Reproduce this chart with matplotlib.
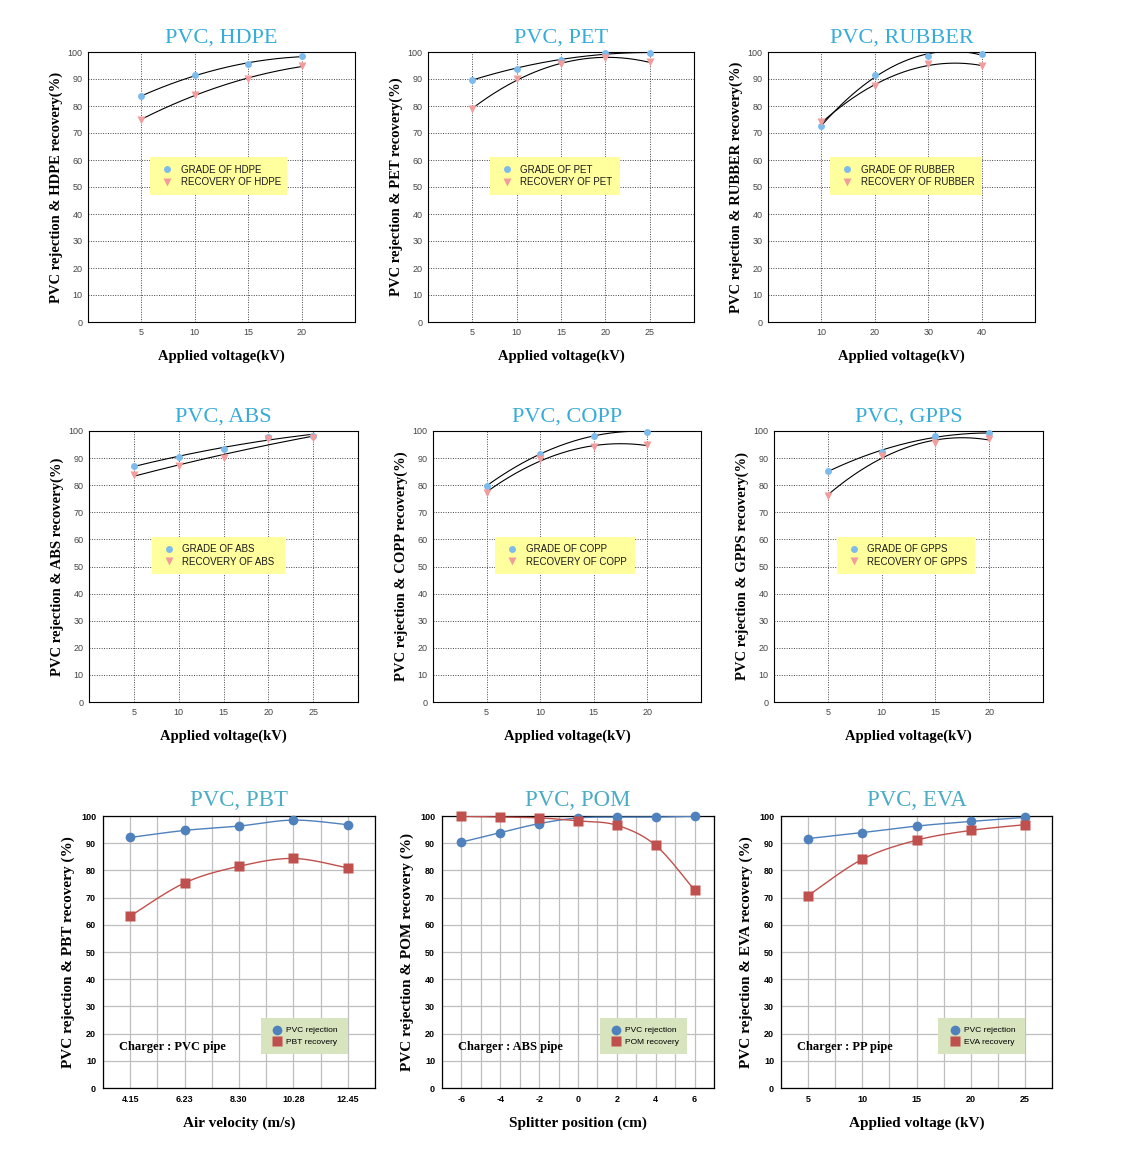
"""PVC separation results - nine small panels (grade / recovery vs. operating variable)."""

import matplotlib
matplotlib.use("Agg")
import matplotlib.pyplot as plt
from matplotlib.lines import Line2D
from matplotlib.patches import Rectangle
import numpy as np

W, H = 1135, 1155
SERIF = "Liberation Serif"
SANS = "Liberation Sans"

# ---- data: top two rows (grade / recovery vs applied voltage) ----
HDPE_X = [5, 10, 15, 20]
HDPE_GRADE = [83.6, 91.6, 95.6, 98.4]
HDPE_RECOVERY = [75.0, 84.2, 90.1, 94.7]

PET_X = [5, 10, 15, 20, 25]
PET_GRADE = [89.8, 93.7, 97.2, 99.6, 99.6]
PET_RECOVERY = [78.9, 90.0, 95.6, 97.8, 96.3]

RUBBER_X = [10, 20, 30, 40]
RUBBER_GRADE = [72.5, 91.4, 98.6, 99.1]
RUBBER_RECOVERY = [74.0, 87.3, 95.6, 94.8]

ABS_X = [5, 10, 15, 20, 25]
ABS_GRADE = [87.2, 90.3, 93.3, 97.9, 98.3]
ABS_RECOVERY = [83.7, 87.1, 90.1, 96.9, 97.3]

COPP_X = [5, 10, 15, 20]
COPP_GRADE = [79.8, 91.4, 98.3, 99.8]
COPP_RECOVERY = [77.3, 89.5, 94.0, 94.8]

GPPS_X = [5, 10, 15, 20]
GPPS_GRADE = [85.2, 92.4, 98.2, 99.1]
GPPS_RECOVERY = [76.1, 90.9, 95.7, 97.0]

# ---- data: bottom row ----
PBT_LABELS = ["4.15", "6.23", "8.30", "10.28", "12.45"]
PBT_REJECTION = [92.1, 94.7, 96.3, 98.5, 96.8]
PBT_RECOVERY = [63.2, 75.4, 81.5, 84.4, 80.9]

POM_X = [-6, -4, -2, 0, 2, 4, 6]
POM_REJECTION = [90.4, 93.9, 97.2, 99.3, 99.6, 99.6, 99.9]
POM_RECOVERY = [99.9, 99.6, 99.3, 98.2, 96.6, 89.2, 72.7]

EVA_X = [5, 10, 15, 20, 25]
EVA_REJECTION = [91.7, 93.9, 96.3, 98.0, 99.5]
EVA_RECOVERY = [70.7, 84.1, 91.1, 94.7, 96.8]

Y_TICKS = list(range(0, 101, 10))


def px_axes(fig, left, top, right, bottom):
    """Axes from pixel box (origin top-left)."""
    return fig.add_axes([left / W, 1 - bottom / H, (right - left) / W, (bottom - top) / H])


def smooth(x, y, n=40):
    """Excel-style smoothed line (Catmull-Rom through the points)."""
    px = np.concatenate([[x[0]], x, [x[-1]]]).astype(float)
    py = np.concatenate([[y[0]], y, [y[-1]]]).astype(float)
    t = np.linspace(0, 1, n)
    xs, ys = [], []
    for i in range(1, len(px) - 2):
        for p, out in ((px, xs), (py, ys)):
            p0, p1, p2, p3 = p[i - 1:i + 3]
            out.append(0.5 * (2 * p1 + (p2 - p0) * t
                              + (2 * p0 - 5 * p1 + 4 * p2 - p3) * t ** 2
                              + (3 * p1 - p0 - 3 * p2 + p3) * t ** 3))
    return np.concatenate(xs), np.concatenate(ys)


def voltage_panel(ax, name, x, grade, recovery, xlim, leg_w):
    x = np.asarray(x, float)
    xs = np.linspace(x[0], x[-1], 200)
    for y in (grade, recovery):
        fit = np.polyfit(x, y, 2)
        ax.plot(xs, np.polyval(fit, xs), color="black", lw=0.8, zorder=3)
    ax.plot(x, grade, "o", ms=5, color="#7DBBEC", mec="none", zorder=4, clip_on=False)
    ax.plot(x, recovery, "v", ms=5.5, color="#F29C9C", mec="none", zorder=4, clip_on=False)

    ax.set_xlim(*xlim)
    ax.set_ylim(0, 100)
    ax.set_xticks(x)
    ax.set_xticklabels([f"{v:g}" for v in x])
    ax.set_yticks(Y_TICKS)
    ax.grid(True, ls=(0, (1, 1.5)), color="#444444", lw=0.7)
    ax.tick_params(length=0, labelsize=6.5, labelcolor="#444444", pad=4)
    for lab in ax.get_xticklabels() + ax.get_yticklabels():
        lab.set_family(SANS)
    for s in ax.spines.values():
        s.set_linewidth(0.8)

    ax.set_title(f"PVC, {name}", family=SERIF, fontsize=16, color="#38ACD8", pad=7)
    ax.set_xlabel("Applied voltage(kV)", family=SERIF, fontweight="bold",
                  fontsize=10.5, labelpad=9)
    ax.set_ylabel(f"PVC rejection & {name} recovery(%)", family=SERIF,
                  fontweight="bold", fontsize=10.5, labelpad=3)

    ax.add_patch(Rectangle((0.233, 0.472), leg_w, 0.138, transform=ax.transAxes,
                           facecolor="#FFFF9E", edgecolor="none", zorder=5))
    handles = [Line2D([], [], ls="none", marker="o", ms=5, color="#7DBBEC", mec="none"),
               Line2D([], [], ls="none", marker="v", ms=5.5, color="#F29C9C", mec="none")]
    leg = ax.legend(handles, [f"GRADE OF {name}", f"RECOVERY OF {name}"],
                    loc="center left", bbox_to_anchor=(0.26, 0.541), frameon=False,
                    prop={"family": SANS, "size": 7}, handlelength=1.0,
                    handletextpad=0.9, labelspacing=0.25, borderpad=0)
    leg.set_zorder(6)
    for t in leg.get_texts():
        t.set_color("#1A1A1A")


def excel_panel(ax, name, x, rejection, recovery, xlim, xgrid, xticks, xticklabels,
                xlabel, charger):
    blue, red = "#4F81BD", "#C0504D"
    for y, c in ((rejection, blue), (recovery, red)):
        sx, sy = smooth(np.asarray(x, float), np.asarray(y, float))
        ax.plot(sx, sy, color=c, lw=1.0, zorder=3)
    ax.plot(x, rejection, "o", ms=7, color=blue, mec="none", zorder=4, clip_on=False)
    ax.plot(x, recovery, "s", ms=6.5, color=red, mec="none", zorder=4, clip_on=False)

    ax.set_xlim(*xlim)
    ax.set_ylim(0, 100)
    ax.set_xticks(xticks)
    ax.set_xticklabels(xticklabels)
    ax.set_xticks(xgrid, minor=True)
    ax.set_yticks(Y_TICKS)
    ax.grid(True, which="both", color="#BFBFBF", lw=0.9)
    ax.set_axisbelow(True)
    ax.tick_params(which="both", length=0, labelsize=6.5, pad=5)
    for lab in ax.get_xticklabels() + ax.get_yticklabels():
        lab.set_family(SANS)
        lab.set_fontweight("bold")
    for s in ax.spines.values():
        s.set_linewidth(0.9)

    ax.set_title(f"PVC, {name}", family=SERIF, fontsize=16.5, color="#4BACC6", pad=7)
    ax.set_xlabel(xlabel, family=SERIF, fontweight="bold", fontsize=11, labelpad=9)
    ax.set_ylabel(f"PVC rejection & {name} recovery (%)", family=SERIF,
                  fontweight="bold", fontsize=11, labelpad=4)
    ax.text(0.06, 0.15, f"Charger : {charger}", transform=ax.transAxes,
            family=SERIF, fontweight="bold", fontsize=9, va="center", zorder=6)

    ax.add_patch(Rectangle((0.58, 0.124), 0.32, 0.133, transform=ax.transAxes,
                           facecolor="#D7E4BD", edgecolor="none", zorder=5))
    handles = [Line2D([], [], ls="none", marker="o", ms=7, color=blue, mec="none"),
               Line2D([], [], ls="none", marker="s", ms=6.5, color=red, mec="none")]
    leg = ax.legend(handles, ["PVC rejection", f"{name} recovery"],
                    loc="center left", bbox_to_anchor=(0.61, 0.19), frameon=False,
                    prop={"family": SANS, "size": 6}, handlelength=1.0,
                    handletextpad=0.6, labelspacing=0.45, borderpad=0)
    leg.set_zorder(6)


def main():
    fig = plt.figure(figsize=(W / 100, H / 100), dpi=100)
    fig.patch.set_facecolor("white")

    voltage_panel(px_axes(fig, 88, 52, 355, 322), "HDPE", HDPE_X, HDPE_GRADE,
                  HDPE_RECOVERY, (0, 25), 0.514)
    voltage_panel(px_axes(fig, 428, 52, 694, 322), "PET", PET_X, PET_GRADE,
                  PET_RECOVERY, (0, 30), 0.49)
    voltage_panel(px_axes(fig, 768, 52, 1035, 322), "RUBBER", RUBBER_X, RUBBER_GRADE,
                  RUBBER_RECOVERY, (0, 50), 0.566)
    voltage_panel(px_axes(fig, 89, 431, 358, 702), "ABS", ABS_X, ABS_GRADE,
                  ABS_RECOVERY, (0, 30), 0.495)
    voltage_panel(px_axes(fig, 433, 431, 701, 702), "COPP", COPP_X, COPP_GRADE,
                  COPP_RECOVERY, (0, 25), 0.522)
    voltage_panel(px_axes(fig, 774, 431, 1043, 702), "GPPS", GPPS_X, GPPS_GRADE,
                  GPPS_RECOVERY, (0, 25), 0.513)

    pbt_x = list(range(len(PBT_LABELS)))
    excel_panel(px_axes(fig, 103, 816, 375, 1088), "PBT", pbt_x, PBT_REJECTION,
                PBT_RECOVERY, (-0.5, len(pbt_x) - 0.5),
                np.arange(-0.5, len(pbt_x), 0.5), pbt_x, PBT_LABELS,
                "Air velocity (m/s)", "PVC pipe")
    excel_panel(px_axes(fig, 442, 816, 714, 1088), "POM", POM_X, POM_REJECTION,
                POM_RECOVERY, (-7, 7), np.arange(-7, 8, 1), POM_X,
                [str(v) for v in POM_X], "Splitter position (cm)", "ABS pipe")
    excel_panel(px_axes(fig, 781, 816, 1052, 1088), "EVA", EVA_X, EVA_REJECTION,
                EVA_RECOVERY, (2.5, 27.5), np.arange(2.5, 28, 2.5), EVA_X,
                [str(v) for v in EVA_X], "Applied voltage (kV)", "PP pipe")

    fig.savefig("out.png", dpi=100)
    plt.close(fig)


if __name__ == "__main__":
    main()
